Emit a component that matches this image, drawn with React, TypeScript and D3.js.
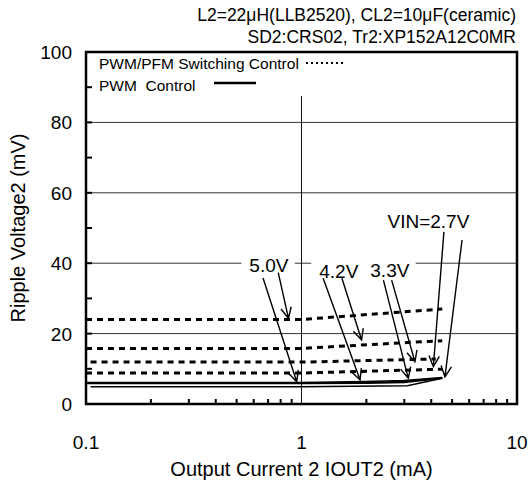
import React, { useEffect, useRef } from 'react';
import * as d3 from 'd3';

type Pt = [number, number];

const titleLines = ['L2=22\u03bcH(LLB2520), CL2=10\u03bcF(ceramic)', 'SD2:CRS02, Tr2:XP152A12C0MR'];
const xTickValues = [0.1, 1, 10];
const yTickValues = [0, 20, 40, 60, 80, 100];
const xLabel = 'Output Current 2 IOUT2 (mA)';
const yLabel = 'Ripple Voltage2 (mV)';
const legendLabels = ['PWM/PFM Switching Control', 'PWM\u00a0\u00a0Control'];

// PWM/PFM switching control (dotted): [IOUT2 mA, ripple mV]
const pfm50: Pt[] = [[0.1, 24], [1, 24], [4.5, 27]];
const pfm42: Pt[] = [[0.1, 15.8], [1, 15.8], [4.5, 18]];
const pfm33: Pt[] = [[0.105, 11.9], [1, 11.9], [4.2, 12.8]];
const pfm27: Pt[] = [[0.1, 8.8], [1, 8.8], [4.5, 9.9]];

// PWM control (solid)
const pwm50: Pt[] = [[0.1, 6.1], [1, 6.1], [2, 6.4], [3, 6.7], [4.5, 7.5]];
const pwm42: Pt[] = [[0.1, 5.9], [1, 5.9], [2, 6.1], [3, 6.4], [4.5, 7.4]];
const pwm33: Pt[] = [[0.1, 5.8], [1, 5.8], [2, 5.9], [3, 6.1], [4.5, 7.3]];
const pwm27: Pt[] = [[0.105, 4.9], [1, 4.9], [3.1, 5.2], [4.5, 7.3]];

// VIN labels and their arrows [x1, y1, x2, y2] in data units
const annotations = [
  { label: '5.0V', x: 0.706, y: 37.5, bg: true, arrows: [[0.663, 35.8, 0.95, 6.3], [0.78, 37.3, 0.87, 24.3]] },
  { label: '4.2V', x: 1.49, y: 35.8, bg: true, arrows: [[1.26, 35.7, 1.87, 6.8], [1.54, 35.7, 1.9, 18.2]] },
  { label: '3.3V', x: 2.57, y: 36.1, bg: true, arrows: [[2.4, 35.2, 3.13, 7.3], [2.62, 35.2, 3.36, 12.0]] },
  { label: 'VIN=2.7V', x: 3.88, y: 50.0, bg: false, arrows: [[4.58, 48.9, 4.09, 10.6], [5.56, 46.6, 4.63, 7.7]] },
];

const FONT = '"Liberation Sans", Arial, sans-serif';

export default function App() {
  const svgRef = useRef<SVGSVGElement>(null);

  useEffect(() => {
    if (!svgRef.current) return;
    const svg = d3.select(svgRef.current);
    svg.selectAll('*').remove();

    const left = 86, right = 517, top = 52, bottom = 404;

    const x = d3.scaleLog().domain([0.1, 10]).range([left, right]);
    const y = d3.scaleLinear().domain([0, 100]).range([bottom, top]);

    const g = svg.append('g').attr('font-family', FONT);

    // horizontal grid
    g.selectAll('line.hgrid')
      .data(yTickValues.filter(v => v > 0 && v < 100))
      .join('line')
      .attr('x1', left).attr('x2', right)
      .attr('y1', d => y(d)).attr('y2', d => y(d))
      .attr('stroke', '#333').attr('stroke-width', 1);

    // vertical grid at 1 mA
    g.append('line')
      .attr('x1', x(1)).attr('x2', x(1))
      .attr('y1', top).attr('y2', bottom)
      .attr('stroke', '#111').attr('stroke-width', 1);

    // legend background
    g.append('rect')
      .attr('x', left + 1).attr('y', top + 1)
      .attr('width', 265).attr('height', 43)
      .attr('fill', '#fff');

    // label backgrounds hide grid lines
    const labelText = g.append('g');
    annotations.forEach(a => {
      const t = labelText.append('text')
        .attr('x', x(a.x)).attr('y', y(a.y))
        .attr('text-anchor', 'middle')
        .attr('font-size', 19)
        .text(a.label);
      if (a.bg) {
        const b = (t.node() as SVGTextElement).getBBox();
        g.insert('rect', 'g')
          .attr('x', b.x - 8).attr('y', b.y)
          .attr('width', b.width + 14).attr('height', b.height)
          .attr('fill', '#fff');
      }
    });

    const line = d3.line<Pt>().x(d => x(d[0])).y(d => y(d[1]));

    [pfm50, pfm42, pfm33, pfm27].forEach(s => {
      g.append('path').datum(s)
        .attr('d', line).attr('fill', 'none')
        .attr('stroke', '#000').attr('stroke-width', 3)
        .attr('stroke-dasharray', '6,5');
    });

    [pwm50, pwm42, pwm33, pwm27].forEach(s => {
      g.append('path').datum(s)
        .attr('d', line).attr('fill', 'none')
        .attr('stroke', '#000').attr('stroke-width', 1.5);
    });

    // arrows
    annotations.forEach(a => {
      a.arrows.forEach(([x1, y1, x2, y2]) => {
        const px1 = x(x1), py1 = y(y1), px2 = x(x2), py2 = y(y2);
        const ang = Math.atan2(py2 - py1, px2 - px1);
        const len = 12, spread = 0.45;
        const h1 = [px2 - len * Math.cos(ang - spread), py2 - len * Math.sin(ang - spread)];
        const h2 = [px2 - len * Math.cos(ang + spread), py2 - len * Math.sin(ang + spread)];
        g.append('path')
          .attr('d', `M${px1},${py1}L${px2},${py2}M${h1[0]},${h1[1]}L${px2},${py2}L${h2[0]},${h2[1]}`)
          .attr('fill', 'none').attr('stroke', '#000').attr('stroke-width', 1.4);
      });
    });

    labelText.raise();

    // legend
    g.append('text').attr('x', 99).attr('y', 69).attr('font-size', 15.5).text(legendLabels[0]);
    g.append('line').attr('x1', 306).attr('x2', 345).attr('y1', 63).attr('y2', 63)
      .attr('stroke', '#000').attr('stroke-width', 2).attr('stroke-dasharray', '2,3');
    g.append('text').attr('x', 99).attr('y', 91).attr('font-size', 15.5).text(legendLabels[1]);
    g.append('line').attr('x1', 214).attr('x2', 256).attr('y1', 83).attr('y2', 83)
      .attr('stroke', '#000').attr('stroke-width', 2.5);

    // frame
    g.append('rect')
      .attr('x', left).attr('y', top)
      .attr('width', right - left).attr('height', bottom - top)
      .attr('fill', 'none').attr('stroke', '#000').attr('stroke-width', 2.5);

    // x minor ticks
    const xMinor: number[] = [];
    [0.1, 1].forEach(dec => { for (let k = 2; k <= 9; k++) xMinor.push(dec * k); });
    g.selectAll('line.xminor').data(xMinor).join('line')
      .attr('x1', d => x(d)).attr('x2', d => x(d))
      .attr('y1', bottom).attr('y2', bottom - 5)
      .attr('stroke', '#000').attr('stroke-width', 2);

    // y ticks every 10
    g.selectAll('line.ytick').data(d3.range(10, 100, 10)).join('line')
      .attr('x1', left).attr('x2', left + 6)
      .attr('y1', d => y(d)).attr('y2', d => y(d))
      .attr('stroke', '#000').attr('stroke-width', 2);

    // tick labels
    g.selectAll('text.xt').data(xTickValues).join('text')
      .attr('x', d => x(d)).attr('y', 449)
      .attr('text-anchor', 'middle').attr('font-size', 19)
      .text(d => String(d));
    g.selectAll('text.yt').data(yTickValues).join('text')
      .attr('x', 72).attr('y', d => y(d) + 7)
      .attr('text-anchor', 'end').attr('font-size', 19)
      .text(d => String(d));

    // axis titles
    g.append('text').attr('x', x(1)).attr('y', 476)
      .attr('text-anchor', 'middle').attr('font-size', 20).text(xLabel);
    g.append('text')
      .attr('transform', `translate(25,${(top + bottom) / 2}) rotate(-90)`)
      .attr('text-anchor', 'middle').attr('font-size', 20).text(yLabel);

    // header
    titleLines.forEach((t, i) => {
      g.append('text').attr('x', 516).attr('y', 21 + i * 22)
        .attr('text-anchor', 'end').attr('font-size', 17.5).text(t);
    });
  }, []);

  return (
    <div style={{ position: 'absolute', left: 0, top: 0, background: '#fff' }}>
      <svg ref={svgRef} width={530} height={484} />
    </div>
  );
}
